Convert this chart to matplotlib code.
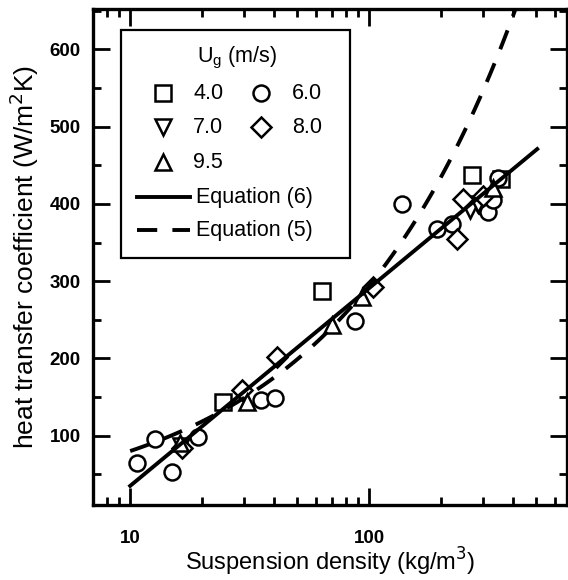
import numpy as np
import matplotlib
matplotlib.use("Agg")
import matplotlib.pyplot as plt
from matplotlib.patches import Rectangle

plt.rcParams['font.family'] = ['Liberation Sans', 'DejaVu Sans']

# measured points, suspension density (kg/m3) vs h (W/m2K)
x_40 = [24.5, 63.5, 270, 355]
h_40 = [144, 287, 437, 432]
x_60 = [10.7, 12.7, 15.0, 19.3, 35.3, 40.2, 87, 137, 192, 222, 301, 313, 330, 345]
h_60 = [64, 96, 53, 98, 146, 149, 248, 400, 368, 374, 396, 390, 405, 433]
x_70 = [16.3, 263, 285]
h_70 = [86, 392, 400]
x_80 = [16.5, 29.3, 41, 104, 233, 248, 300]
h_80 = [84, 159, 202, 293, 355, 407, 410]
x_95 = [16.2, 30.8, 70, 93, 330]
h_95 = [91, 144, 243, 280, 420]

# Equation (6): h = a + b*log10(C)
eq6_a, eq6_b = -221.0, 256.0
eq6_range = [10, 505]
# Equation (5): h = k*C^n
eq5_k, eq5_n = 21.8, 0.565
eq5_range = [10, 420]

fig = plt.figure(figsize=(5.68, 5.80), dpi=100)
ax = fig.add_axes([0.164, 0.129, 0.834, 0.855])

mk = dict(ls="none", mfc="white", mec="black", mew=1.8, ms=11.5, zorder=3)
ax.plot(x_40, h_40, marker="s", **mk)
ax.plot(x_60, h_60, marker="o", **mk)
ax.plot(x_70, h_70, marker="v", **mk)
ax.plot(x_80, h_80, marker="D", **{**mk, "ms": 10})
ax.plot(x_95, h_95, marker="^", **mk)

c6 = np.logspace(np.log10(eq6_range[0]), np.log10(eq6_range[1]), 50)
ax.plot(c6, eq6_a + eq6_b * np.log10(c6), "k-", lw=2.8, zorder=4)
c5 = np.logspace(np.log10(eq5_range[0]), np.log10(eq5_range[1]), 100)
ax.plot(c5, eq5_k * c5**eq5_n, "k", lw=2.8, dashes=(5.2, 3.9), zorder=4)

ax.set_xscale("log")
ax.set_xlim(7, 672)
ax.set_ylim(10, 652)
ax.set_xticks([10, 100])
ax.set_xticklabels(["10", "100"])
ax.set_xticks([8, 9, 20, 30, 40, 50, 60, 70, 80, 90, 200, 300, 400, 500, 600], minor=True)
ax.xaxis.set_minor_formatter(matplotlib.ticker.NullFormatter())
ax.set_yticks([100, 200, 300, 400, 500, 600])
ax.set_yticks([50, 150, 250, 350, 450, 550, 650], minor=True)

ax.tick_params(which="both", direction="in", top=True, right=True, width=2)
ax.tick_params(which="major", length=12)
ax.tick_params(which="minor", length=6)
ax.tick_params(axis="y", which="major", pad=9)
ax.tick_params(axis="x", which="major", pad=18)
for lab in ax.get_xticklabels() + ax.get_yticklabels():
    lab.set_fontweight("bold")
    lab.set_fontsize(13.5)
for s in ax.spines.values():
    s.set_linewidth(2.4)

ax.set_xlabel("Suspension density (kg/m$^3$)", fontsize=17)
ax.xaxis.set_label_coords(0.5, -0.082)
ax.set_ylabel("heat transfer coefficient (W/m$^2$K)", fontsize=19, labelpad=6)

# legend drawn by hand (two columns of markers plus two lines)
T = ax.transAxes
ax.add_patch(Rectangle((0.058, 0.498), 0.484, 0.461, transform=T, fill=False,
                       lw=1.6, ec="black", zorder=5))
ax.text(0.303, 0.901, "U$_\\mathregular{g}$ (m/s)", transform=T, ha="center",
        va="center", fontsize=15.5)
leg_rows = [0.831, 0.762, 0.692]
leg_items = [("s", "4.0", 0, 0), ("o", "6.0", 0, 1), ("v", "7.0", 1, 0),
             ("D", "8.0", 1, 1), ("^", "9.5", 2, 0)]
col_mk = [0.148, 0.354]
col_tx = [0.211, 0.420]
for m, lab, r, c in leg_items:
    ax.plot([col_mk[c]], [leg_rows[r]], marker=m, transform=T, clip_on=False,
            **{**mk, "ms": 10 if m == "D" else 11.5})
    ax.text(col_tx[c], leg_rows[r], lab, transform=T, va="center", fontsize=15.5)
ax.plot([0.093, 0.205], [0.621, 0.621], "k-", lw=2.8, transform=T)
ax.text(0.217, 0.621, "Equation (6)", transform=T, va="center", fontsize=15.5)
ax.plot([0.093, 0.205], [0.554, 0.554], "k", lw=2.8, dashes=(5.2, 3.9), transform=T)
ax.text(0.217, 0.554, "Equation (5)", transform=T, va="center", fontsize=15.5)

fig.savefig("out.png", dpi=100)
